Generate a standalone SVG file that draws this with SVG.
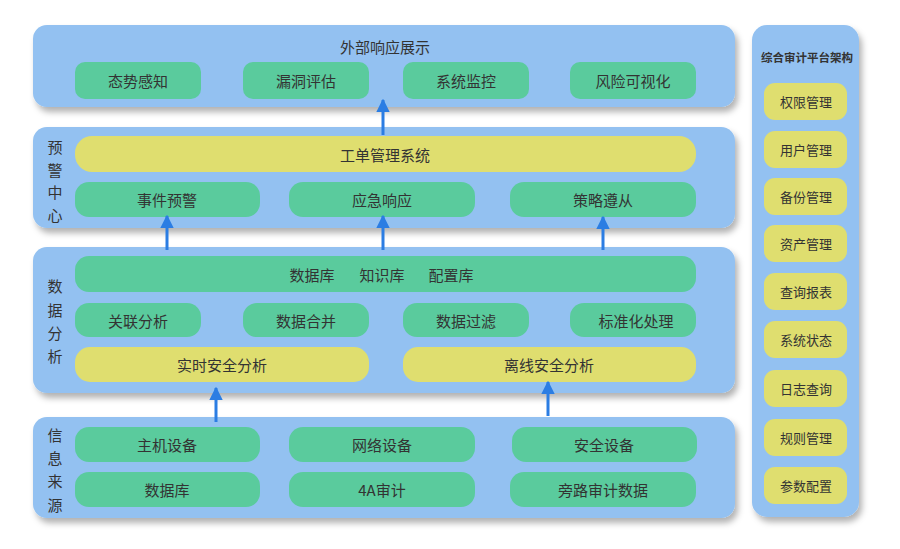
<svg xmlns="http://www.w3.org/2000/svg" width="900" height="549" viewBox="0 0 900 549">
<defs>
<filter id="sh" x="-10%" y="-10%" width="130%" height="140%">
<feDropShadow dx="3" dy="5" stdDeviation="3" flood-color="#000" flood-opacity="0.3"/>
</filter>
<marker id="ah" viewBox="0 0 10 10" refX="9" refY="5" markerWidth="4.5" markerHeight="4.5" orient="auto" markerUnits="strokeWidth">
<path d="M0,0 L10,5 L0,10 z" fill="#2B7DE3"/>
</marker>
<style>
.panel{fill:#93C1F1;filter:url(#sh)}
.g{fill:#5ACB9D}
.y{fill:#DFDE6F}
text{font-family:"Noto Sans CJK SC","Liberation Sans",sans-serif;fill:#333;text-anchor:middle;dominant-baseline:central}
.t{font-size:15px}
.s{font-size:15px}
.v{font-size:15px}
.r{font-size:13px}
.rt{font-size:11.5px;font-weight:bold}
.c{stroke:#2B7DE3;stroke-width:3;fill:none;marker-end:url(#ah)}
</style>
</defs>
<rect width="900" height="549" fill="#fff"/>

<g id="layer-display">
<rect class="panel" x="33" y="25" width="702" height="82" rx="14"/>
<text class="s" x="385" y="46">外部响应展示</text>
<g id="n-taishi"><rect class="g" x="75" y="62" width="126" height="37" rx="10"/><text class="t" x="138" y="80.5">态势感知</text></g>
<g id="n-loudong"><rect class="g" x="243" y="62" width="126" height="37" rx="10"/><text class="t" x="306" y="80.5">漏洞评估</text></g>
<g id="n-jiankong"><rect class="g" x="403" y="62" width="126" height="37" rx="10"/><text class="t" x="466" y="80.5">系统监控</text></g>
<g id="n-fengxian"><rect class="g" x="570" y="62" width="126" height="37" rx="10"/><text class="t" x="633" y="80.5">风险可视化</text></g>
</g>

<g id="layer-warning">
<rect class="panel" x="33" y="127" width="702" height="101" rx="14"/>
<text class="v" x="55" y="146">预</text>
<text class="v" x="55" y="169">警</text>
<text class="v" x="55" y="191">中</text>
<text class="v" x="55" y="214">心</text>
<g id="n-gongdan"><rect class="y" x="75" y="136" width="621" height="36" rx="17"/><text class="t" x="385" y="154">工单管理系统</text></g>
<g id="n-shijian"><rect class="g" x="75" y="182" width="185" height="35" rx="14"/><text class="t" x="167" y="199.5">事件预警</text></g>
<g id="n-yingji"><rect class="g" x="289" y="182" width="186" height="35" rx="14"/><text class="t" x="382" y="199.5">应急响应</text></g>
<g id="n-celue"><rect class="g" x="510" y="182" width="186" height="35" rx="14"/><text class="t" x="603" y="199.5">策略遵从</text></g>
</g>

<g id="layer-analysis">
<rect class="panel" x="33" y="247" width="702" height="146" rx="14"/>
<text class="v" x="55" y="285">数</text>
<text class="v" x="55" y="309">据</text>
<text class="v" x="55" y="332">分</text>
<text class="v" x="55" y="355">析</text>
<g id="n-ku"><rect class="g" x="75" y="256" width="621" height="36" rx="14"/><text class="t" x="312" y="274">数据库</text><text class="t" x="382" y="274">知识库</text><text class="t" x="451" y="274">配置库</text></g>
<g id="n-guanlian"><rect class="g" x="75" y="303" width="126" height="34" rx="14"/><text class="t" x="138" y="320">关联分析</text></g>
<g id="n-hebing"><rect class="g" x="243" y="303" width="126" height="34" rx="14"/><text class="t" x="306" y="320">数据合并</text></g>
<g id="n-guolv"><rect class="g" x="403" y="303" width="126" height="34" rx="14"/><text class="t" x="466" y="320">数据过滤</text></g>
<g id="n-biaozhun"><rect class="g" x="570" y="303" width="126" height="34" rx="14"/><text class="t" x="636" y="320">标准化处理</text></g>
<g id="n-shishi"><rect class="y" x="75" y="347" width="294" height="35" rx="15"/><text class="t" x="222" y="364.5">实时安全分析</text></g>
<g id="n-lixian"><rect class="y" x="403" y="347" width="293" height="35" rx="15"/><text class="t" x="549" y="364.5">离线安全分析</text></g>
</g>

<g id="layer-source">
<rect class="panel" x="33" y="417" width="702" height="101" rx="14"/>
<text class="v" x="55" y="434">信</text>
<text class="v" x="55" y="457">息</text>
<text class="v" x="55" y="480">来</text>
<text class="v" x="55" y="504">源</text>
<g id="n-zhuji"><rect class="g" x="75" y="427" width="185" height="35" rx="14"/><text class="t" x="167" y="444.5">主机设备</text></g>
<g id="n-wangluo"><rect class="g" x="289" y="427" width="186" height="35" rx="14"/><text class="t" x="382" y="444.5">网络设备</text></g>
<g id="n-anquan"><rect class="g" x="512" y="427" width="185" height="35" rx="14"/><text class="t" x="604" y="444.5">安全设备</text></g>
<g id="n-shujuku"><rect class="g" x="75" y="472" width="185" height="35" rx="14"/><text class="t" x="167" y="489.5">数据库</text></g>
<g id="n-4a"><rect class="g" x="289" y="472" width="186" height="35" rx="14"/><text class="t" x="382" y="489.5">4A审计</text></g>
<g id="n-panglu"><rect class="g" x="510" y="472" width="186" height="35" rx="14"/><text class="t" x="603" y="489.5">旁路审计数据</text></g>
</g>

<g id="side-panel">
<rect class="panel" x="752" y="25" width="107" height="492" rx="15"/>
<text class="rt" x="807" y="57">综合审计平台架构</text>
<g id="s1"><rect class="y" x="764" y="83" width="83" height="37" rx="11"/><text class="r" x="806" y="101.5">权限管理</text></g>
<g id="s2"><rect class="y" x="764" y="131" width="83" height="37" rx="11"/><text class="r" x="806" y="149.5">用户管理</text></g>
<g id="s3"><rect class="y" x="764" y="178" width="83" height="37" rx="11"/><text class="r" x="806" y="196.5">备份管理</text></g>
<g id="s4"><rect class="y" x="764" y="225" width="83" height="37" rx="11"/><text class="r" x="806" y="243.5">资产管理</text></g>
<g id="s5"><rect class="y" x="764" y="273" width="83" height="37" rx="11"/><text class="r" x="806" y="291.5">查询报表</text></g>
<g id="s6"><rect class="y" x="764" y="321" width="83" height="37" rx="11"/><text class="r" x="806" y="339.5">系统状态</text></g>
<g id="s7"><rect class="y" x="764" y="370" width="83" height="37" rx="11"/><text class="r" x="806" y="388.5">日志查询</text></g>
<g id="s8"><rect class="y" x="764" y="419" width="83" height="37" rx="11"/><text class="r" x="806" y="437.5">规则管理</text></g>
<g id="s9"><rect class="y" x="764" y="467" width="83" height="37" rx="11"/><text class="r" x="806" y="485.5">参数配置</text></g>
</g>

<g id="connectors">
<line class="c" x1="383" y1="135" x2="383" y2="100"/>
<line class="c" x1="167" y1="250" x2="167" y2="216"/>
<line class="c" x1="383" y1="250" x2="383" y2="216"/>
<line class="c" x1="603" y1="250" x2="603" y2="217"/>
<line class="c" x1="216" y1="422" x2="216" y2="388"/>
<line class="c" x1="548" y1="416" x2="548" y2="382"/>
</g>
</svg>
